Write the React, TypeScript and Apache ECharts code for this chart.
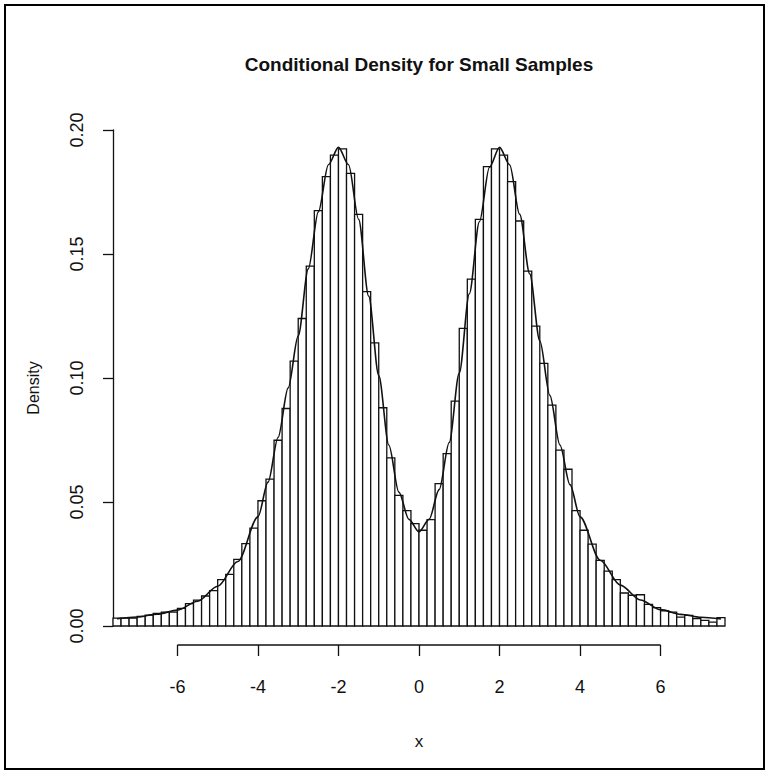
import React, { useEffect, useRef } from "react";
import * as echarts from "echarts";

// Histogram: first break and bin width (x units), and bin heights (density)
const BREAK_START = -7.6;
const BIN_WIDTH = 0.2;
const binDensity = [
  0.0032, 0.0032, 0.0032, 0.0039, 0.0044, 0.0051, 0.0056, 0.0056, 0.0071, 0.0090,
  0.0104, 0.0121, 0.0143, 0.0187, 0.0208, 0.0269, 0.0332, 0.0395, 0.0505, 0.0592,
  0.0749, 0.0877, 0.1068, 0.1240, 0.1451, 0.1675, 0.1812, 0.1899, 0.1924, 0.1825,
  0.1660, 0.1348, 0.1142, 0.0880, 0.0678, 0.0527, 0.0465, 0.0413, 0.0386, 0.0429,
  0.0574, 0.0695, 0.0907, 0.1200, 0.1399, 0.1640, 0.1852, 0.1924, 0.1899, 0.1792,
  0.1633, 0.1431, 0.1209, 0.1059, 0.0891, 0.0709, 0.0632, 0.0465, 0.0386, 0.0330,
  0.0265, 0.0221, 0.0187, 0.0133, 0.0124, 0.0126, 0.0087, 0.0074, 0.0061, 0.0056,
  0.0036, 0.0043, 0.0030, 0.0023, 0.0016, 0.0034,
];

// Density curve sample points
const curveX = [
  -7.5, -7.0, -6.5, -6.0, -5.5, -5.0, -4.5, -4.0, -3.75, -3.5, -3.25, -3.0, -2.75, -2.5,
  -2.25, -2.0, -1.75, -1.5, -1.25, -1.0, -0.75, -0.5, -0.25, 0, 0.25, 0.5, 0.75, 1.0,
  1.25, 1.5, 1.75, 2.0, 2.25, 2.5, 2.75, 3.0, 3.25, 3.5, 3.75, 4.0, 4.5, 5.0, 5.5, 6.0,
  6.5, 7.0, 7.5,
];
const curveY = [
  0.0029, 0.0036, 0.0048, 0.0064, 0.0100, 0.0160, 0.0260, 0.0440, 0.0580, 0.0760, 0.0960,
  0.1170, 0.1440, 0.1670, 0.1860, 0.1930, 0.1860, 0.1640, 0.1330, 0.1010, 0.0730, 0.0540,
  0.0430, 0.0380, 0.0430, 0.0550, 0.0740, 0.1020, 0.1340, 0.1630, 0.1850, 0.1930, 0.1860,
  0.1660, 0.1420, 0.1150, 0.0930, 0.0730, 0.0570, 0.0440, 0.0265, 0.0165, 0.0105, 0.0066,
  0.0047, 0.0035, 0.0028,
];

const xTicks = [-6, -4, -2, 0, 2, 4, 6];
const yTicks = [0, 0.05, 0.1, 0.15, 0.2];

const TITLE = "Conditional Density for Small Samples";
const X_LABEL = "x";
const Y_LABEL = "Density";

export default function App() {
  const ref = useRef<HTMLDivElement>(null);

  useEffect(() => {
    if (!ref.current) return;
    const chart = echarts.init(ref.current, null, { renderer: "svg" });
    const font = "'Liberation Sans', Arial, Helvetica, sans-serif";
    const ink = "#111";

    const bins = binDensity.map((d, i) => [
      BREAK_START + i * BIN_WIDTH,
      BREAK_START + (i + 1) * BIN_WIDTH,
      d,
    ]);
    const curve = curveX.map((x, i) => [x, curveY[i]]);

    chart.setOption({
      animation: false,
      backgroundColor: "#fff",
      title: {
        text: TITLE,
        left: 414,
        top: 50,
        textAlign: "center",
        textStyle: { fontFamily: font, fontSize: 19, fontWeight: "bold", color: ink },
      },
      grid: { left: 113, right: 44, top: 130, bottom: 148, containLabel: false },
      xAxis: {
        type: "value",
        min: BREAK_START,
        max: BREAK_START + binDensity.length * BIN_WIDTH,
        offset: 19,
        axisLine: { show: false, onZero: false },
        axisTick: {
          show: true,
          length: 11,
          customValues: xTicks,
          lineStyle: { color: ink, width: 1.3 },
        },
        axisLabel: {
          customValues: xTicks,
          margin: 33,
          fontFamily: font,
          fontSize: 18,
          color: ink,
        },
        splitLine: { show: false },
        name: X_LABEL,
        nameLocation: "middle",
        nameGap: 88,
        nameTextStyle: { fontFamily: font, fontSize: 17, color: ink },
      },
      yAxis: {
        type: "value",
        min: 0,
        max: 0.2,
        axisLine: { show: true, onZero: false, lineStyle: { color: ink, width: 1.3 } },
        axisTick: {
          show: true,
          length: 10,
          customValues: yTicks,
          lineStyle: { color: ink, width: 1.3 },
        },
        axisLabel: {
          customValues: yTicks,
          rotate: 90,
          margin: 27,
          fontFamily: font,
          fontSize: 18,
          color: ink,
          formatter: (v: number) => v.toFixed(2),
        },
        splitLine: { show: false },
      },
      series: [
        {
          type: "custom",
          name: "hist",
          data: bins,
          encode: { x: [0, 1], y: 2 },
          renderItem: (params: any, api: any) => {
            const p0 = api.coord([api.value(0), api.value(2)]);
            const p1 = api.coord([api.value(1), 0]);
            return {
              type: "rect",
              shape: { x: p0[0], y: p0[1], width: p1[0] - p0[0], height: p1[1] - p0[1] },
              style: { fill: "#fff", stroke: ink, lineWidth: 1.3 },
            };
          },
          silent: true,
        },
        {
          type: "line",
          name: "density",
          data: curve,
          showSymbol: false,
          smooth: 0.3,
          smoothMonotone: "x",
          lineStyle: { color: ink, width: 1.6 },
          silent: true,
          z: 5,
        },
      ],
    });

    // R-style x axis line spanning only the first to last tick, placed via the axis scale
    const xa = chart.convertToPixel({ xAxisIndex: 0 }, xTicks[0]) as number;
    const xb = chart.convertToPixel({ xAxisIndex: 0 }, xTicks[xTicks.length - 1]) as number;
    const y0 = chart.convertToPixel({ yAxisIndex: 0 }, 0) as number;
    chart.setOption({
      graphic: [
        {
          type: "line",
          shape: { x1: xa, y1: y0 + 19, x2: xb, y2: y0 + 19 },
          style: { stroke: ink, lineWidth: 1.3 },
        },
        {
          type: "text",
          x: 33,
          y: 388,
          rotation: Math.PI / 2,
          style: {
            text: Y_LABEL,
            fontFamily: font,
            fontSize: 16,
            fill: ink,
            align: "center",
            verticalAlign: "middle",
          },
        },
        {
          type: "rect",
          shape: { x: 5, y: 5, width: 759, height: 764 },
          style: { fill: "none", stroke: "#000", lineWidth: 2 },
        },
      ],
    });

    return () => chart.dispose();
  }, []);

  return (
    <div
      ref={ref}
      style={{ position: "fixed", left: 0, top: 0, width: 769, height: 774 }}
    />
  );
}
